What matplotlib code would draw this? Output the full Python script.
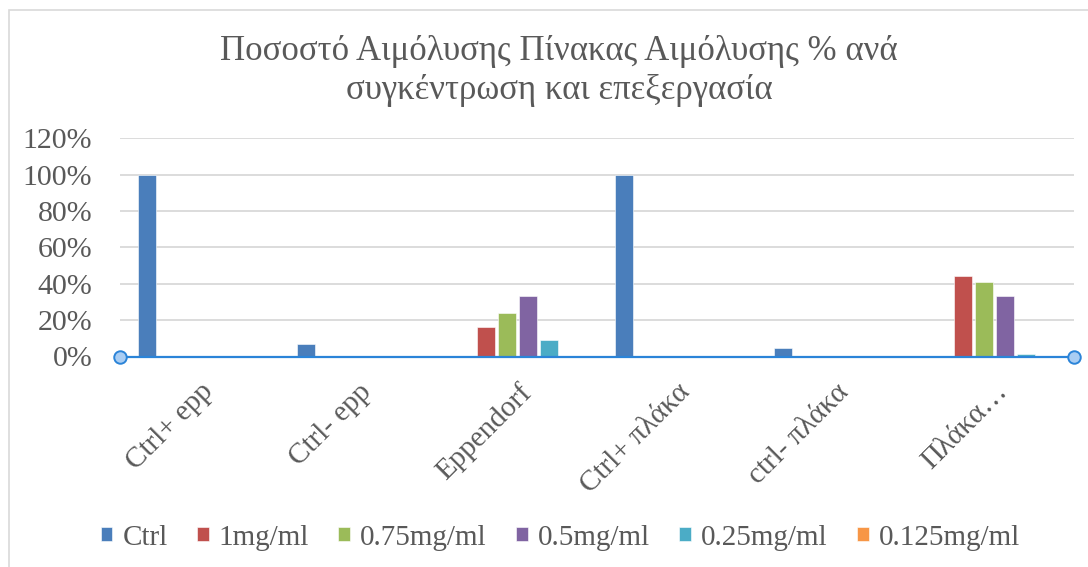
import numpy as np
import matplotlib.pyplot as plt
from matplotlib.patches import Rectangle
from matplotlib.ticker import PercentFormatter

plt.rcParams['font.family'] = ['Liberation Serif', 'DejaVu Serif']

# haemolysis fraction per treatment / concentration
categories = ['Ctrl+ epp', 'Ctrl- epp', 'Eppendorf', 'Ctrl+ πλάκα', 'ctrl- πλάκα', 'Πλάκα…']
series = ['Ctrl', '1mg/ml', '0.75mg/ml', '0.5mg/ml', '0.25mg/ml', '0.125mg/ml']
ctrl = [1.00, 0.068, 0.0, 1.00, 0.046, 0.0]
c_1 = [0.0, 0.0, 0.161, 0.0, 0.0, 0.443]
c_075 = [0.0, 0.0, 0.240, 0.0, 0.0, 0.412]
c_05 = [0.0, 0.0, 0.333, 0.0, 0.0, 0.333]
c_025 = [0.0, 0.0, 0.092, 0.0, 0.0, 0.013]
c_0125 = [0.0, 0.0, 0.0, 0.0, 0.0, 0.0]
values = [ctrl, c_1, c_075, c_05, c_025, c_0125]
colors = ['#4a7ebb', '#c0504d', '#9bbb59', '#8064a2', '#4bacc6', '#f79646']

grey = '#595959'

fig = plt.figure(figsize=(10.88, 5.67), dpi=100)
fig.patches.append(Rectangle((9 / 1088, -0.1), 1.2, 1 - 10 / 567 + 0.1,
                             transform=fig.transFigure, fill=False,
                             edgecolor='#d9d9d9', linewidth=1.2))

ax = fig.add_axes([120 / 1088, 1 - 356.5 / 567, 954 / 1088, 218.2 / 567])

x = np.arange(len(categories))
pitch = 0.132
for i, (name, vals, col) in enumerate(zip(series, values, colors)):
    ax.bar(x + (i - 2.5) * pitch, vals, width=0.108, color=col,
           edgecolor='white', linewidth=0.4, label=name, zorder=3)

ax.set_xlim(-0.5, len(categories) - 0.5)
ax.set_ylim(0, 1.2)
ax.set_yticks(np.arange(0, 1.21, 0.2))
ax.yaxis.set_major_formatter(PercentFormatter(1.0, decimals=0))
ax.grid(axis='y', color='#d9d9d9', linewidth=1.3, zorder=0)
for s in ax.spines.values():
    s.set_visible(False)

# selected category axis
ax.plot([-0.5, len(categories) - 0.5], [0, 0], color='#2b84d8', linewidth=1.6,
        marker='o', markersize=9, markerfacecolor='#a9cdf3',
        markeredgecolor='#2b84d8', markeredgewidth=1.4, clip_on=False, zorder=5)

ax.tick_params(axis='y', length=0, labelsize=21.5, labelcolor=grey, pad=20)
ax.tick_params(axis='x', length=0, labelsize=21, labelcolor=grey, pad=16)
ax.set_xticks(x)
ax.set_xticklabels(categories, rotation=45, ha='right', va='top',
                   rotation_mode='anchor')

fig.text(0.514, 0.875, 'Ποσοστό Αιμόλυσης Πίνακας Αιμόλυσης % ανά\nσυγκέντρωση και επεξεργασία',
         ha='center', va='center', fontsize=25, color=grey, linespacing=1.27)

fig.legend(loc='center', bbox_to_anchor=(0.515, 0.052), ncol=6, frameon=False,
           fontsize=21, labelcolor=grey, handlelength=0.4, handleheight=0.4,
           handletextpad=0.35, columnspacing=1.0)

fig.savefig('out.png', dpi=100, facecolor='white')
